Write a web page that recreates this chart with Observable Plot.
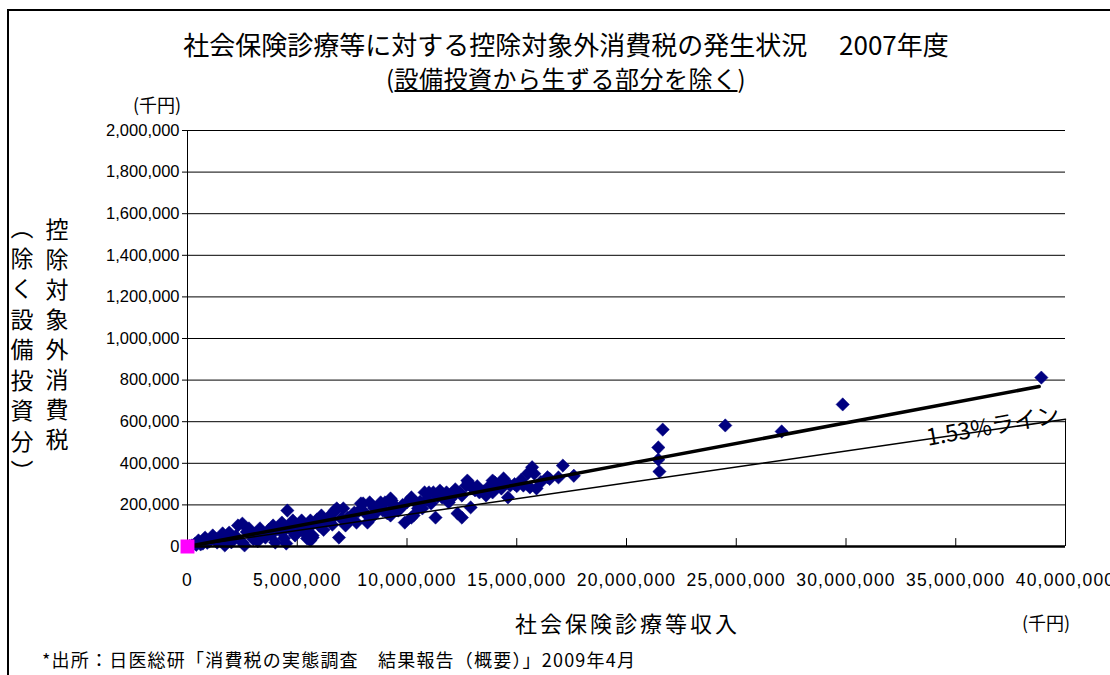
<!DOCTYPE html>
<html><head><meta charset="utf-8">
<script src="https://cdn.jsdelivr.net/npm/d3@7"></script>
<script src="https://cdn.jsdelivr.net/npm/@observablehq/plot@0.6"></script>
<style>
body{margin:0;background:#fff;}
#wrap{position:relative;width:1110px;height:675px;overflow:hidden;font-family:"Liberation Sans","Noto Sans CJK JP",sans-serif;color:#000;}
.t{position:absolute;white-space:nowrap;}
g[aria-label="x-axis tick label"] text{letter-spacing:1.2px;}
</style></head>
<body><div id="wrap"></div>
<script>
// ---- data (千円) ----
const income = [38900000,29850000,27070000,24500000,21650000,21450000,21450000,21500000,
17100000,16900000,17600000,16400000,15700000,15800000,15500000,15600000,15900000,15300000,14700000,14400000,14400000,13900000,14000000,13800000,14300000,14600000,
12750000,12800000,12700000,13000000,13300000,12900000,12500000,12300000,12100000,11500000,11000000,11900000,11100000,11300000,10700000,13600000,13900000,
10800000,10200000,10000000,9900000,10200000,10300000,9250000,8800000,8300000,8000000,8600000,8900000,9600000,7600000,7700000,7300000,6800000,6650000,7000000,6400000,6100000,5800000,5600000,5500000,5300000,6900000,5700000,5600000,5200000,7200000,8200000,9250000,9700000,10500000,
4550000,2500000,2300000,2800000,3300000,3900000,4300000,4800000,5200000,1600000,1150000,800000,500000,1900000,3100000,4300000,3550000,2500000,4500000,1350000,2050000,4900000,5450000,700000,200000,350000,1700000,2600000,4000000,5700000,
11200000,11800000,12500000,10200000,9300000,9000000,7900000,7100000,6700000,
1000000,1300000,2200000,2900000,3400000,3700000,4100000,4600000,400000,900000,1500000,3000000,3800000,4700000,6000000,6300000,7500000,8100000,8500000,9400000,9800000,10600000,11600000,12200000,13200000,13500000,14900000,15200000,16100000,100000,600000,2000000,3200000,4400000,5000000,6200000,6600000,7400000,8400000,9100000,10900000,12000000,14100000,
1800000,2700000,3500000,4200000,5100000,5900000,6500000,7800000,8700000,9500000,10400000,11400000,12400000,13100000,13700000,14500000,15000000,16500000];
const tax = [812000,683000,553000,582000,562000,476000,418000,360000,
389000,332000,340000,333000,381000,350000,351000,284000,279000,293000,293000,317000,327000,317000,308000,284000,279000,236000,
317000,308000,293000,279000,260000,188000,139000,159000,245000,269000,260000,212000,207000,139000,183000,245000,260000,
260000,236000,212000,115000,139000,149000,231000,212000,212000,207000,163000,173000,173000,163000,115000,139000,183000,163000,135000,139000,149000,115000,125000,87000,67000,43000,43000,29000,101000,101000,115000,149000,183000,183000,
173000,110000,101000,87000,87000,101000,115000,125000,125000,63000,53000,43000,29000,67000,63000,67000,43000,19000,14000,19000,38000,53000,38000,14000,5000,14000,5000,5000,19000,53000,
260000,260000,245000,231000,221000,212000,207000,183000,173000,
25000,35000,50000,60000,70000,80000,85000,95000,8000,18000,30000,35000,55000,80000,100000,120000,150000,160000,185000,195000,200000,215000,235000,275000,290000,265000,300000,320000,310000,2000,10000,20000,25000,40000,90000,80000,105000,125000,140000,160000,225000,230000,295000,
45000,70000,60000,90000,110000,130000,125000,170000,190000,190000,210000,240000,260000,270000,285000,305000,290000,325000];
const originPoint = [{x:0,y:0}];
const trendX = [0, 38800000];   // 近似線
const trendY = [0, 769000];
const refX = [0, 40000000];     // 1.53%ライン
const refY = [0, 612000];
const refLabel = "1.53%ライン";
const xTicks = [0,5000000,10000000,15000000,20000000,25000000,30000000,35000000,40000000];
const yTicks = [0,200000,400000,600000,800000,1000000,1200000,1400000,1600000,1800000,2000000];

const points = income.map((v,i)=>({x:v,y:tax[i]}));
const trend = trendX.map((v,i)=>({x:v,y:trendY[i]}));
const ref = refX.map((v,i)=>({x:v,y:refY[i]}));

const chart = Plot.plot({
  width:1110, height:675,
  marginLeft:187, marginRight:45, marginTop:130, marginBottom:129,
  style:{fontFamily:"Liberation Sans, Arial, sans-serif", fontSize:"16px", color:"#000", background:"transparent"},
  x:{domain:[0,40000000]},
  y:{domain:[0,2000000]},
  marks:[
    Plot.gridY(yTicks.slice(1), {stroke:"#000", strokeOpacity:1, strokeWidth:1}),
    Plot.axisY({ticks:yTicks, tickFormat:d3.format(","), tickSize:5, tickPadding:3, stroke:"#000", fontSize:16.5, label:null}),
    Plot.axisX({ticks:xTicks, tickFormat:d3.format(","), tickSize:0, tickPadding:27, fontSize:17.5, label:null}),
    Plot.ruleX([0], {stroke:"#000", strokeWidth:1}),
    Plot.ruleX(xTicks.slice(1), {y1:0, y2:38000, stroke:"#000", strokeWidth:1}),
    Plot.ruleX([40000000], {y1:0, y2:605000, stroke:"#000", strokeWidth:1}),
    Plot.dot(points, {x:"x", y:"y", symbol:"diamond2", r:6, fill:"#000080", stroke:"#000080", strokeWidth:0.5}),
    Plot.line(ref, {x:"x", y:"y", stroke:"#000", strokeWidth:1.5}),
    Plot.line(trend, {x:"x", y:"y", stroke:"#000", strokeWidth:3.5}),
    Plot.ruleY([0], {stroke:"#000", strokeWidth:2.5}),
    Plot.dot(originPoint, {x:"x", y:"y", symbol:"square", r:7, fill:"#FF00FF", stroke:"#FF00FF"}),
    Plot.text([refLabel], {x:()=>36700000, y:()=>36700000*0.0153, text:d=>d, rotate:-10, dy:-3, fontSize:23, fontFamily:"Noto Sans CJK JP, sans-serif", fill:"#000"})
  ]
});
const wrap = document.getElementById("wrap");
chart.style.position="absolute"; chart.style.left="0"; chart.style.top="0";
wrap.appendChild(chart);

function add(html, css){const d=document.createElement("div");d.className="t";d.innerHTML=html;Object.assign(d.style,css);wrap.appendChild(d);return d;}
// border (top & left)
add("", {left:"7px", top:"9px", width:"1200px", height:"700px", borderTop:"2px solid #000", borderLeft:"2px solid #000"});
add("社会保険診療等に対する控除対象外消費税の発生状況　 2007年度", {left:"0", width:"1132px", textAlign:"center", top:"28px", fontSize:"26px", fontFamily:"Noto Sans CJK JP, sans-serif", lineHeight:"32px"});
add("(<u>設備投資から生ずる部分を除く</u>)", {left:"0", width:"1132px", textAlign:"center", top:"62px", fontSize:"24px", letterSpacing:"0.5px", fontFamily:"Noto Sans CJK JP, sans-serif", lineHeight:"32px"});
add("(千円)", {left:"133px", top:"92px", fontSize:"18px", fontFamily:"Noto Sans CJK JP, sans-serif", lineHeight:"24px"});
add("控除対象外消費税", {left:"45px", top:"218px", fontSize:"23px", writingMode:"vertical-rl", letterSpacing:"7px", fontFamily:"Noto Sans CJK JP, sans-serif", lineHeight:"24px"});
add("（除く設備投資分）", {left:"10px", top:"216px", fontSize:"23px", writingMode:"vertical-rl", letterSpacing:"7.5px", fontFamily:"Noto Sans CJK JP, sans-serif", lineHeight:"24px"});
add("社会保険診療等収入", {left:"515px", top:"607px", fontSize:"22px", letterSpacing:"3px", fontFamily:"Noto Sans CJK JP, sans-serif", lineHeight:"30px"});
add("(千円)", {left:"1022px", top:"609px", fontSize:"18px", fontFamily:"Noto Sans CJK JP, sans-serif", lineHeight:"26px"});
add("*出所：日医総研「消費税の実態調査　結果報告（概要）」2009年4月", {left:"42px", top:"647px", fontSize:"18px", letterSpacing:"1.2px", fontFamily:"Noto Sans CJK JP, sans-serif", lineHeight:"24px"});
</script></body></html>
